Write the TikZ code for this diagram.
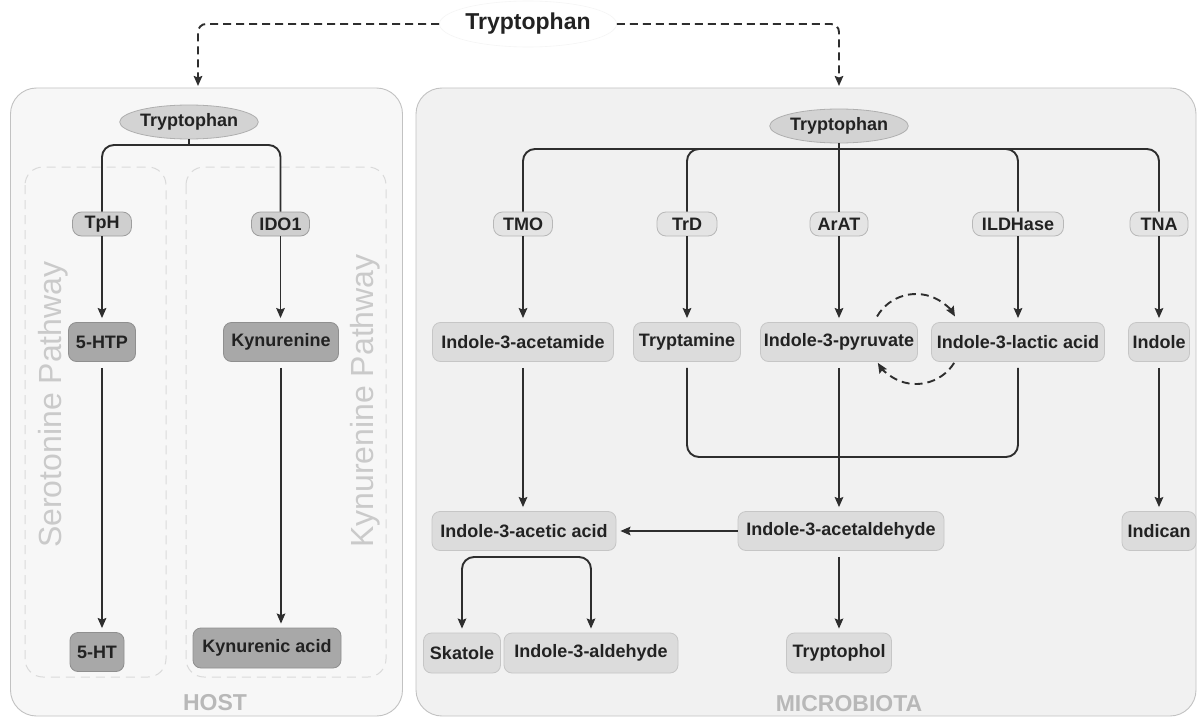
\documentclass[tikz,border=0pt]{standalone}
\usepackage{fontspec}
\setmainfont{Liberation Sans}
\usetikzlibrary{arrows.meta,shapes.geometric}
\definecolor{txt}{HTML}{222222}
\definecolor{lnc}{HTML}{2E2E2E}
\definecolor{hostfill}{HTML}{F7F7F7}
\definecolor{microfill}{HTML}{F1F1F1}
\definecolor{panelborder}{HTML}{C2C2C2}
\definecolor{mprodfill}{HTML}{DCDCDC}
\definecolor{mprodborder}{HTML}{C6C6C6}
\definecolor{menzfill}{HTML}{E4E4E4}
\definecolor{menzborder}{HTML}{B8B8B8}
\definecolor{henzfill}{HTML}{CFCFCF}
\definecolor{henzborder}{HTML}{9E9E9E}
\definecolor{hprodfill}{HTML}{A8A8A8}
\definecolor{hprodborder}{HTML}{8F8F8F}
\definecolor{trpfill}{HTML}{D3D3D3}
\definecolor{trpborder}{HTML}{AFAFAF}
\definecolor{faint}{HTML}{CACACA}
\definecolor{lbl}{HTML}{B8B8B8}
\tikzset{
  panel/.style={draw=panelborder, line width=0.9pt, rounded corners=26pt},
  innerdash/.style={draw=faint!70!white, dash pattern=on 9pt off 6pt, line width=1pt, rounded corners=18pt},
  basebox/.style={rectangle, text=txt, inner sep=0pt, line width=0.8pt},
  menz/.style={basebox, fill=menzfill, draw=menzborder, rounded corners=9pt, minimum height=24pt},
  henz/.style={basebox, fill=henzfill, draw=henzborder, rounded corners=9pt, minimum height=24pt},
  mprod/.style={basebox, fill=mprodfill, draw=mprodborder, rounded corners=8pt, minimum height=39pt},
  hprod/.style={basebox, fill=hprodfill, draw=hprodborder, rounded corners=8pt, minimum height=39pt},
  trpe/.style={ellipse, fill=trpfill, draw=trpborder, line width=0.8pt, text=txt, inner sep=0pt, minimum width=118pt, minimum height=34pt},
  conn/.style={draw=lnc, line width=1.9pt},
  arr/.style={conn, -{Stealth[length=10pt, width=8.5pt, inset=1.5pt]}, shorten >=4pt},
  dasharr/.style={draw=lnc, line width=1.9pt, dash pattern=on 8pt off 5pt, -{Stealth[length=10pt, width=8.5pt, inset=1.5pt]}},
  pathtxt/.style={text=faint, font=\fontsize{32}{34}\selectfont, inner sep=0pt},
  paneltxt/.style={text=lbl, font=\fontsize{23}{25}\selectfont\bfseries, inner sep=0pt}
}
\begin{document}
\begin{tikzpicture}[x=1pt, y=-1pt, font=\fontsize{18}{20}\selectfont\bfseries]
\useasboundingbox (0,0) rectangle (1197,717);
\fill[white] (0,0) rectangle (1197,717);

% panels
\path[panel, fill=hostfill] (10.5,88) rectangle (402.5,716);
\path[panel, fill=microfill] (416,88) rectangle (1196,716);
\path[innerdash] (25,167) rectangle (166,677);
\path[innerdash] (186,167) rectangle (386,677);

% panel labels
\node[pathtxt, rotate=90, anchor=base west] (sertxt) at (61,548) {Serotonine Pathway};
\node[pathtxt, rotate=90, anchor=base west] (kyntxt) at (373,548) {Kynurenine Pathway};
\node[paneltxt] (hosttxt) at (215,703) {HOST};
\node[paneltxt] (microtxt) at (849,704) {MICROBIOTA};

% top label
\node[ellipse, draw=black!4, fill=white, line width=0.6pt, minimum width=152pt, minimum height=46pt, inner sep=0pt, text=txt, font=\fontsize{23}{25}\selectfont\bfseries] (top) at (528,24) {Tryptophan};
\coordinate (hL) at (198,86);
\coordinate (hR) at (839,86);
\draw[dasharr, rounded corners=8pt] (top.west) -| (hL);
\draw[dasharr, rounded corners=8pt] (top.east) -| (hR);

% HOST
\node[trpe] (trpL) at (189,122) {Tryptophan};
\node[henz, minimum width=59pt] (tph) at (102,224) {TpH};
\node[henz, minimum width=58pt] (ido) at (280.5,224) {IDO1};
\node[hprod, minimum width=67pt] (htp) at (102,342) {5-HTP};
\node[hprod, minimum width=115pt] (kyn) at (281,342) {Kynurenine};
\node[hprod, minimum width=54pt] (ht) at (97,652) {5-HT};
\node[hprod, minimum width=148pt, minimum height=40pt] (kyna) at (267,648) {Kynurenic acid};

\coordinate (jL) at (189,145);
\draw[conn] (trpL.south) -- (jL);
\draw[conn, rounded corners=12pt] (tph.north) |- (jL) -| (ido.north);
\draw[arr] (tph.south) -- (htp.north);
\draw[arr] (ido.south) -- (ido.south |- kyn.north);
\draw[arr, shorten <=6pt] (htp.south) -- (htp.south |- ht.north);
\draw[arr, shorten <=6pt] (kyn.south) -- (kyn.south |- kyna.north);

% MICROBIOTA
\node[trpe] (trpR) at (839,126) {Tryptophan};
\node[menz, minimum width=59pt] (tmo) at (523,224) {TMO};
\node[menz, minimum width=60pt] (trd) at (687,224) {TrD};
\node[menz, minimum width=58pt] (arat) at (839,224) {ArAT};
\node[menz, minimum width=91pt] (ild) at (1018,224) {ILDHase};
\node[menz, minimum width=58pt] (tna) at (1159,224) {TNA};

\node[mprod, minimum width=181pt] (iam) at (523,342) {Indole-3-acetamide};
\node[mprod, minimum width=107pt] (tam) at (687,342) {Tryptamine};
\node[mprod, minimum width=157pt] (ipy) at (839,342) {Indole-3-pyruvate};
\node[mprod, minimum width=173pt] (ila) at (1018,342) {Indole-3-lactic acid};
\node[mprod, minimum width=61pt] (ind) at (1159,342) {Indole};

\node[mprod, minimum width=184pt] (iaa) at (524,531) {Indole-3-acetic acid};
\node[mprod, minimum width=206pt] (iad) at (841,531) {Indole-3-acetaldehyde};
\node[mprod, minimum width=74pt] (ican) at (1159,531) {Indican};

\node[mprod, minimum width=77pt, minimum height=40pt] (ska) at (462,653) {Skatole};
\node[mprod, minimum width=174pt, minimum height=40pt] (ial) at (591,653) {Indole-3-aldehyde};
\node[mprod, minimum width=105pt, minimum height=40pt] (tol) at (839,653) {Tryptophol};

\coordinate (jR) at (839,149);
\draw[conn] (trpR.south) -- (arat.north);
\draw[conn, rounded corners=12pt] (tmo.north) |- (jR) -| (tna.north);
\draw[conn, rounded corners=12pt] (jR) -| (trd.north);
\draw[conn, rounded corners=12pt] (jR) -| (ild.north);

\draw[arr] (tmo.south) -- (tmo.south |- iam.north);
\draw[arr] (trd.south) -- (trd.south |- tam.north);
\draw[arr] (arat.south) -- (ipy.north);
\draw[arr] (ild.south) -- (ild.south |- ila.north);
\draw[arr] (tna.south) -- (tna.south |- ind.north);

% interconversion (angles in canvas orientation)
\coordinate (cyc) at (916,339);
\draw[dasharr] (cyc) ++(150:45pt) arc[start angle=150, end angle=30, radius=45pt];
\draw[dasharr] (cyc) ++(-32:45pt) arc[start angle=-32, end angle=-148, radius=45pt];

% U connector Tryptamine - lactic acid
\coordinate (u) at (850,457);
\draw[conn, rounded corners=12pt, shorten <=6pt, shorten >=6pt] (tam.south) |- (u) -| (ila.south);

\draw[arr, shorten <=6pt] (ipy.south) -- (ipy.south |- iad.north);
\draw[arr, shorten <=6pt] (ind.south) -- (ind.south |- ican.north);
\draw[arr, shorten <=6pt] (iam.south) -- (iam.south |- iaa.north);
\draw[arr] (iad.west) -- (iaa.east);
\draw[arr, shorten <=6pt] (iad.south -| ipy.south) -- (ipy.south |- tol.north);

\coordinate (v) at (525,557);
\draw[arr, rounded corners=12pt] (v) -| (ska.north);
\draw[arr, rounded corners=12pt] (v) -| (ial.north);
\end{tikzpicture}
\end{document}
